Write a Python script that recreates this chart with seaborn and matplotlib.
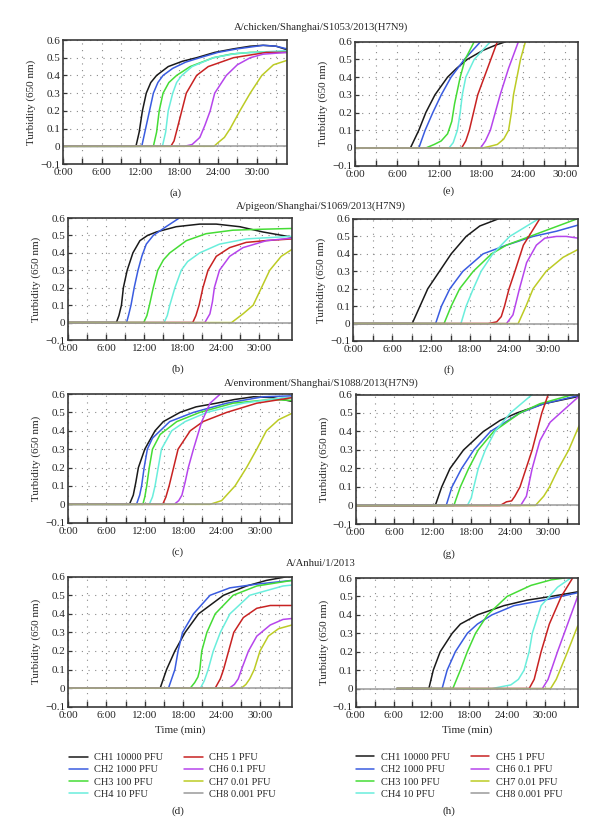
import pandas as pd
import seaborn as sns
import matplotlib.pyplot as plt
from matplotlib.ticker import FixedLocator

CHANNELS = ["CH1 10000 PFU", "CH2 1000 PFU", "CH3 100 PFU", "CH4 10 PFU",
            "CH5 1 PFU", "CH6 0.1 PFU", "CH7 0.01 PFU", "CH8 0.001 PFU"]
COLORS = ["#1a1a1a", "#3a5ce0", "#45dc35", "#6aeedc",
          "#c82222", "#b645ec", "#bccb25", "#9a9a9a"]
TITLES = ["A/chicken/Shanghai/S1053/2013(H7N9)",
          "A/pigeon/Shanghai/S1069/2013(H7N9)",
          "A/environment/Shanghai/S1088/2013(H7N9)",
          "A/Anhui/1/2013"]
XTICKS = [0, 6, 12, 18, 24, 30]
XTICK_LABELS = ["0:00", "6:00", "12:00", "18:00", "24:00", "30:00"]
YTICKS = [-0.1, 0, 0.1, 0.2, 0.3, 0.4, 0.5, 0.6]
YTICK_LABELS = ["\u22120.1", "0", "0.1", "0.2", "0.3", "0.4", "0.5", "0.6"]

# (a) chicken
A_X = [[0, 11.3, 11.8, 12.3, 12.9, 13.6, 14.5, 16.3, 18.5, 20.7, 23.5, 26.4, 29, 31, 33, 34.7],
       [0, 12.2, 12.8, 13.4, 14.0, 14.7, 15.5, 17.0, 19.0, 21.2, 24, 27, 31, 33, 34.7],
       [0, 14.0, 14.5, 14.9, 15.5, 16.4, 17.6, 19.7, 23.3, 26, 29, 34.7],
       [0, 15.4, 15.9, 16.3, 17.0, 17.6, 18.4, 20, 23.3, 27, 34.7],
       [0, 16.7, 17.2, 17.7, 18.4, 19.1, 20.7, 22.5, 26.4, 31.5, 34.7],
       [0, 18.8, 20.0, 21.2, 22.0, 22.8, 23.5, 25.3, 27, 29, 31, 34.7],
       [0, 23.4, 24.0, 25.0, 25.9, 27.4, 29.0, 30.8, 32.6, 34.7],
       [0, 34.7]]
A_Y = [[0, 0, 0.08, 0.2, 0.3, 0.36, 0.4, 0.45, 0.48, 0.5, 0.53, 0.55, 0.565, 0.57, 0.565, 0.545],
       [0, 0, 0.1, 0.2, 0.3, 0.36, 0.4, 0.44, 0.475, 0.5, 0.53, 0.55, 0.57, 0.565, 0.55],
       [0, 0, 0.08, 0.2, 0.3, 0.36, 0.4, 0.45, 0.5, 0.52, 0.53, 0.535],
       [0, 0, 0.08, 0.2, 0.3, 0.36, 0.4, 0.45, 0.5, 0.525, 0.54],
       [0, 0, 0.03, 0.1, 0.2, 0.3, 0.4, 0.45, 0.5, 0.53, 0.53],
       [0, 0, 0.01, 0.05, 0.12, 0.2, 0.3, 0.4, 0.46, 0.5, 0.52, 0.53],
       [0, 0, 0.02, 0.05, 0.1, 0.2, 0.3, 0.4, 0.46, 0.485],
       [0, 0]]

# (e)
E_X = [[0, 7.9, 9.1, 10.1, 11.4, 13.2, 14.5, 16, 18.2, 20, 21.5],
       [0, 9.1, 10.0, 11.1, 12.3, 13.7, 15.6, 17.9],
       [0, 10.1, 11.3, 12.3, 13.2, 13.8, 14.2, 15.0, 15.7, 17.0],
       [0, 13.4, 14.0, 14.6, 15.0, 15.3, 15.8, 17.0, 19.3],
       [0, 15.2, 15.8, 16.3, 16.9, 17.5, 18.9, 20.3],
       [0, 17.9, 18.6, 19.3, 20.0, 20.7, 21.9, 23.3],
       [0, 18.2, 19.3, 20.3, 21.2, 21.9, 22.3, 22.6, 23.6, 24.3],
       [0, 31.8]]
E_Y = [[0, 0, 0.1, 0.2, 0.3, 0.4, 0.45, 0.5, 0.55, 0.58, 0.6],
       [0, 0, 0.1, 0.2, 0.3, 0.4, 0.5, 0.6],
       [0, 0, 0.02, 0.04, 0.08, 0.15, 0.25, 0.4, 0.5, 0.6],
       [0, 0, 0.03, 0.1, 0.2, 0.3, 0.4, 0.5, 0.6],
       [0, 0, 0.04, 0.1, 0.2, 0.3, 0.45, 0.6],
       [0, 0, 0.04, 0.1, 0.2, 0.3, 0.45, 0.6],
       [0, 0, 0.01, 0.02, 0.05, 0.1, 0.2, 0.3, 0.5, 0.6],
       [0, 0]]

# (b) pigeon
B_X = [[0, 7.6, 8.0, 8.4, 8.7, 9.3, 10.2, 11.3, 12.5, 13.9, 17, 20.7, 23.3, 27, 30.6, 35.2],
       [0, 9.2, 9.5, 9.9, 10.4, 11.0, 11.6, 12.3, 13.4, 15.4, 17.5],
       [0, 11.9, 12.4, 12.8, 13.4, 14.1, 15.0, 16.0, 18.6, 21.7, 25.9, 30, 35.2],
       [0, 15.1, 15.6, 16.0, 16.8, 17.8, 18.8, 20.7, 23.8, 28, 35.2],
       [0, 19.6, 20.1, 20.6, 21.2, 22.0, 23.3, 25.4, 28, 31, 35.2],
       [0, 21.5, 22.3, 22.7, 23.0, 23.8, 25.4, 27.5, 31.2, 35.2],
       [0, 25.7, 27.5, 29.1, 30.4, 31.7, 33.5, 35.2],
       [0, 35.2]]
B_Y = [[0, 0, 0.04, 0.1, 0.2, 0.3, 0.4, 0.47, 0.5, 0.52, 0.55, 0.565, 0.565, 0.55, 0.52, 0.49],
       [0, 0, 0.04, 0.1, 0.2, 0.3, 0.38, 0.45, 0.5, 0.55, 0.6],
       [0, 0, 0.04, 0.1, 0.2, 0.3, 0.36, 0.4, 0.47, 0.51, 0.53, 0.535, 0.54],
       [0, 0, 0.04, 0.1, 0.2, 0.3, 0.35, 0.4, 0.45, 0.48, 0.495],
       [0, 0, 0.04, 0.1, 0.2, 0.3, 0.38, 0.43, 0.46, 0.47, 0.48],
       [0, 0, 0.05, 0.12, 0.2, 0.3, 0.38, 0.43, 0.47, 0.485],
       [0, 0, 0.05, 0.1, 0.2, 0.3, 0.38, 0.42],
       [0, 0]]

# (f)
F_X = [[0, 9.1, 10.3, 11.5, 13.3, 15.1, 17.4, 19.5, 22.3],
       [0, 12.7, 13.6, 14.9, 16.9, 20.0, 23.6, 27.7, 31.3, 34.6],
       [0, 14.0, 15.1, 16.4, 18.5, 21.3, 23.6, 27.2, 30.8, 34.4],
       [0, 16.6, 17.4, 18.5, 19.7, 21.5, 24.1, 28.5],
       [0, 20.8, 22.1, 22.8, 23.3, 24.0, 24.9, 26.2, 28.7],
       [0, 23.6, 24.6, 25.6, 26.7, 28.2, 29.5, 31.3, 32.8, 34.6],
       [0, 25.4, 26.6, 27.7, 29.7, 32.3, 34.6],
       [0, 34.6]]
F_Y = [[0, 0, 0.1, 0.2, 0.3, 0.4, 0.5, 0.56, 0.6],
       [0, 0, 0.1, 0.2, 0.3, 0.4, 0.45, 0.5, 0.53, 0.565],
       [0, 0, 0.1, 0.2, 0.3, 0.4, 0.45, 0.5, 0.55, 0.6],
       [0, 0, 0.1, 0.2, 0.3, 0.4, 0.5, 0.6],
       [0, 0, 0.01, 0.04, 0.1, 0.2, 0.3, 0.45, 0.6],
       [0, 0, 0.05, 0.2, 0.35, 0.45, 0.49, 0.5, 0.5, 0.49],
       [0, 0, 0.1, 0.2, 0.3, 0.38, 0.425],
       [0, 0]]

# (c) environment
C_X = [[0, 9.6, 10.2, 10.6, 11.0, 12.0, 13.6, 14.9, 17.5, 20, 23.2, 26, 29, 32, 35],
       [0, 10.7, 11.2, 11.5, 11.9, 12.4, 13.2, 14.4, 15.9, 19.6, 24.8, 30.5, 35],
       [0, 11.7, 12.0, 12.3, 12.7, 13.2, 14.4, 17.0, 20.6, 25.8, 31.6, 35],
       [0, 12.7, 13.2, 13.6, 14.1, 14.6, 16.2, 18.3, 21.7, 27.4, 33.6, 35],
       [0, 14.8, 15.3, 15.8, 16.5, 17.2, 19.1, 21.1, 24.8, 29.5, 35],
       [0, 16.6, 17.3, 17.8, 18.3, 18.8, 19.6, 20.9, 22.2, 23.8],
       [0, 22.2, 24.0, 26.1, 27.9, 29.5, 31.0, 32.9, 35],
       [0, 35]]
C_Y = [[0, 0, 0.05, 0.12, 0.2, 0.3, 0.4, 0.45, 0.5, 0.53, 0.55, 0.57, 0.585, 0.58, 0.56],
       [0, 0, 0.05, 0.1, 0.2, 0.3, 0.36, 0.4, 0.45, 0.5, 0.55, 0.585, 0.59],
       [0, 0, 0.04, 0.1, 0.2, 0.3, 0.38, 0.45, 0.5, 0.55, 0.57, 0.565],
       [0, 0, 0.04, 0.1, 0.2, 0.3, 0.4, 0.45, 0.5, 0.55, 0.58, 0.58],
       [0, 0, 0.04, 0.1, 0.2, 0.3, 0.4, 0.45, 0.5, 0.55, 0.58],
       [0, 0, 0.02, 0.05, 0.12, 0.2, 0.3, 0.45, 0.55, 0.6],
       [0, 0, 0.02, 0.1, 0.2, 0.3, 0.4, 0.46, 0.495],
       [0, 0]]

# (g)
G_X = [[0, 12.4, 13.4, 14.7, 16.8, 19.9, 22.5, 25.1, 29.3, 34.8],
       [0, 14.1, 15.0, 16.5, 18.4, 21.0, 25.6, 29.3, 34.8],
       [0, 15.3, 16.3, 17.6, 19.1, 21.5, 25.6, 28.7, 33.9],
       [0, 17.4, 18.0, 18.4, 19.1, 20.2, 21.7, 24.1, 27.5],
       [0, 22.5, 23.5, 24.3, 24.8, 25.6, 27.5, 29.0, 30.0],
       [0, 25.7, 26.6, 27.5, 28.7, 30.3, 31.9, 34.8],
       [0, 28.0, 29.3, 30.2, 31.6, 33.2, 34.8],
       [0, 34.8]]
G_Y = [[0, 0, 0.1, 0.2, 0.3, 0.4, 0.46, 0.5, 0.55, 0.59],
       [0, 0, 0.1, 0.2, 0.3, 0.4, 0.5, 0.55, 0.595],
       [0, 0, 0.1, 0.2, 0.3, 0.4, 0.5, 0.55, 0.6],
       [0, 0, 0.04, 0.1, 0.2, 0.3, 0.4, 0.5, 0.6],
       [0, 0, 0.02, 0.025, 0.05, 0.1, 0.3, 0.5, 0.6],
       [0, 0, 0.05, 0.2, 0.35, 0.45, 0.5, 0.59],
       [0, 0, 0.05, 0.1, 0.2, 0.3, 0.43],
       [0, 0]]

# (d) Anhui
D_X = [[0, 14.4, 15.4, 16.7, 18.3, 20.4, 24.3, 27.9, 31, 34.2, 35],
       [0, 15.7, 16.2, 16.7, 17.2, 17.9, 19.6, 22.2, 25.3, 29.5, 35],
       [0, 19.1, 19.8, 20.3, 20.6, 20.9, 21.7, 23.0, 25.8, 29.5, 35],
       [0, 20.7, 21.3, 21.9, 22.7, 23.8, 25.3, 28.4, 33.6, 35],
       [0, 23.0, 23.8, 24.3, 25.1, 25.9, 27.4, 29.5, 31.6, 35],
       [0, 25.2, 26.0, 26.6, 27.1, 28.2, 29.5, 31.6, 33.6, 35],
       [0, 27.1, 27.8, 28.4, 29.1, 30.0, 31.3, 32.9, 35],
       [0, 35]]
D_Y = [[0, 0, 0.1, 0.2, 0.3, 0.4, 0.5, 0.55, 0.58, 0.6, 0.6],
       [0, 0, 0.05, 0.1, 0.2, 0.3, 0.4, 0.5, 0.54, 0.56, 0.58],
       [0, 0, 0.03, 0.06, 0.1, 0.2, 0.3, 0.4, 0.5, 0.55, 0.58],
       [0, 0, 0.04, 0.1, 0.2, 0.3, 0.4, 0.5, 0.55, 0.555],
       [0, 0, 0.05, 0.1, 0.2, 0.3, 0.38, 0.43, 0.445, 0.445],
       [0, 0, 0.02, 0.05, 0.1, 0.2, 0.28, 0.34, 0.37, 0.375],
       [0, 0, 0.02, 0.05, 0.1, 0.2, 0.28, 0.32, 0.34],
       [0, 0]]

# (h)
H_X = [[6.5, 11.6, 12.3, 13.4, 15.3, 16.6, 19.3, 23.5, 27.2, 31.0, 35.2],
       [6.5, 13.7, 14.5, 15.8, 17.7, 19.3, 21.6, 25.1, 29.9, 35.2],
       [6.5, 15.4, 16.6, 17.7, 19.0, 20.9, 24.0, 27.8, 31, 33.1],
       [6.5, 21.6, 24.6, 25.8, 26.7, 27.5, 28.0, 29.4, 32.0, 34.1],
       [6.5, 27.5, 28.3, 29.4, 30.7, 32.6, 34.4],
       [6.5, 29.6, 30.5, 32.0, 33.6, 35.2],
       [6.5, 30.9, 31.8, 33.6, 35.2],
       [0, 35.2]]
H_Y = [[0, 0, 0.1, 0.2, 0.3, 0.35, 0.4, 0.45, 0.48, 0.5, 0.525],
       [0, 0, 0.1, 0.2, 0.3, 0.35, 0.4, 0.45, 0.48, 0.52],
       [0, 0, 0.1, 0.2, 0.3, 0.4, 0.5, 0.56, 0.59, 0.6],
       [0, 0, 0.02, 0.05, 0.1, 0.2, 0.3, 0.45, 0.55, 0.6],
       [0, 0, 0.05, 0.2, 0.35, 0.5, 0.6],
       [0, 0, 0.05, 0.2, 0.35, 0.5],
       [0, 0, 0.05, 0.2, 0.34],
       [0, 0]]

sns.set_theme(style="white")
plt.rcParams["font.family"] = ["Liberation Serif", "DejaVu Serif"]
plt.rcParams["axes.unicode_minus"] = True

W, H = 600, 839
fig = plt.figure(figsize=(W / 100, H / 100), dpi=100)


def frame(xs, ys):
    rows = []
    for ch, x, y in zip(CHANNELS, xs, ys):
        for t, v in zip(x, y):
            rows.append((ch, t, v))
    return pd.DataFrame(rows, columns=["channel", "time", "turb"])


def add_ax(x0, y0, x1, y1):
    return fig.add_axes([x0 / W, 1 - y1 / H, (x1 - x0) / W, (y1 - y0) / H])


# pixel boxes: left, top, right, bottom
panels = [
    ("a", A_X, A_Y, 34.7, (63, 40, 287, 164), (176, 193)),
    ("e", E_X, E_Y, 31.8, (355, 41.7, 578, 165.7), (449, 191)),
    ("b", B_X, B_Y, 35.2, (68, 218, 292, 340), (178, 369)),
    ("f", F_X, F_Y, 34.6, (353, 219, 578, 341), (449, 370)),
    ("c", C_X, C_Y, 35.0, (68, 394, 292, 522.7), (178, 552)),
    ("g", G_X, G_Y, 34.8, (355.7, 394.5, 579, 524), (449, 554)),
    ("d", D_X, D_Y, 35.0, (68, 576.7, 292, 706.7), (178, 811)),
    ("h", H_X, H_Y, 35.2, (355.7, 578, 577.7, 707), (449, 811)),
]

for name, xs, ys, xmax, box, lab in panels:
    ax = add_ax(*box)
    df = frame(xs, ys)
    sns.lineplot(data=df, x="time", y="turb", hue="channel", hue_order=CHANNELS,
                 palette=COLORS, estimator=None, sort=False, lw=1.1, ax=ax,
                 legend=name in ("d", "h"))
    ax.set_xlim(0, xmax)
    ax.set_ylim(-0.1, 0.6)
    ax.set_xticks(XTICKS)
    ax.set_xticklabels(XTICK_LABELS)
    ax.xaxis.set_minor_locator(FixedLocator([3, 9, 15, 21, 27, 33]))
    ax.set_yticks(YTICKS)
    ax.set_yticklabels(YTICK_LABELS)
    ax.tick_params(axis="x", which="both", direction="in", length=4.5, width=1.0,
                   color="#333333", labelsize=8, pad=3, bottom=True, top=False)
    ax.tick_params(axis="y", direction="in", length=3, width=0.9, color="#333333",
                   labelsize=8, pad=2, left=True, right=False)
    ax.grid(True, which="both", axis="x", color="#8a8a8a", lw=0.8, ls=(0, (1, 5)))
    ax.grid(True, which="major", axis="y", color="#8a8a8a", lw=0.8, ls=(0, (1, 5)))
    for sp in ax.spines.values():
        sp.set_color("#3a3a3a")
        sp.set_linewidth(1.2)
    ax.set_ylabel("Turbidity (650 nm)", fontsize=8, labelpad=3)
    if name in ("d", "h"):
        ax.set_xlabel("Time (min)", fontsize=8, labelpad=4)
        sns.move_legend(ax, "upper center", bbox_to_anchor=(0.465, -0.315),
                        ncol=2, frameon=False, title=None, fontsize=7.5,
                        handlelength=1.8, handletextpad=0.6, columnspacing=2.0,
                        labelspacing=0.28, borderpad=0)
    else:
        ax.set_xlabel("")
    fig.text(lab[0] / W, 1 - lab[1] / H, f"({name})", ha="center", va="center",
             fontsize=8)

for title, ty in zip(TITLES, [27, 206, 383, 564]):
    fig.text(321 / W, 1 - ty / H, title, ha="center", va="center", fontsize=7.7)

fig.savefig("out.png", dpi=100)
